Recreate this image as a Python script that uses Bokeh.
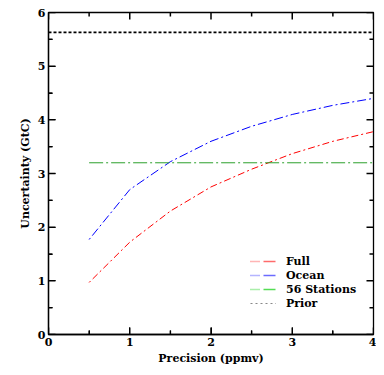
from bokeh.plotting import figure
from bokeh.models import Range1d, Legend, LegendItem, FixedTicker
from bokeh.embed import file_html
from bokeh.resources import INLINE

precision = [0.5, 1.0, 1.5, 2.0, 2.5, 3.0, 3.5, 4.0]
full = [0.97, 1.72, 2.30, 2.75, 3.08, 3.37, 3.60, 3.78]
ocean = [1.77, 2.70, 3.22, 3.60, 3.88, 4.10, 4.27, 4.40]
stations_x = [0.5, 4.0]
stations = [3.2, 3.2]
prior_x = [0.0, 4.0]
prior = [5.63, 5.63]
x_ticks = [0, 1, 2, 3, 4]
x_minor = [0.5, 1.5, 2.5, 3.5]
y_ticks = [0, 1, 2, 3, 4, 5, 6]
y_minor = [0.5, 1.5, 2.5, 3.5, 4.5, 5.5]
labels = ["Full", "Ocean", "56 Stations", "Prior"]

FONT = "DejaVu Serif"
X0, X1, Y0, Y1 = 0, 4, 0, 6
FRAME_W, FRAME_H = 325, 323  # approximate frame size in px, to size tick marks

p = figure(width=376, height=367, output_backend="svg", toolbar_location=None,
           x_range=Range1d(X0, X1), y_range=Range1d(Y0, Y1),
           min_border_left=48, min_border_right=3, min_border_top=12, min_border_bottom=26)
p.grid.visible = False
p.outline_line_color = "black"
p.outline_line_width = 1.3

r_full = p.line(precision, full, line_color="red", line_width=1, line_dash="2 3 7 3")
r_ocean = p.line(precision, ocean, line_color="blue", line_width=1, line_dash="2 3 9 3")
r_st = p.line(stations_x, stations, line_color="#2ca02c", line_width=1, line_dash="14 3 2 3")
r_pr = p.line(prior_x, prior, line_color="black", line_width=1.6, line_dash="3 2")

# inside tick marks on all four sides, as short polylines
xs_t, ys_t = [], []
for vals, px in [(x_ticks, 7), (x_minor, 4)]:
    d = px * (Y1 - Y0) / FRAME_H
    for v in vals:
        xs_t += [[v, v], [v, v]]
        ys_t += [[Y0, Y0 + d], [Y1, Y1 - d]]
for vals, px in [(y_ticks, 7), (y_minor, 4)]:
    d = px * (X1 - X0) / FRAME_W
    for v in vals:
        xs_t += [[X0, X0 + d], [X1, X1 - d]]
        ys_t += [[v, v], [v, v]]
p.multi_line(xs_t, ys_t, line_color="black", line_width=1.5)

# legend-only glyphs: single-point lines (draw nothing in the plot), dotted + solid sample, faint colours
sample = "1 1 1 1 1 1 1 1 1 4 12 4"
l_full = p.line(precision[:1], full[:1], line_color="#ff6b6b", line_width=1.5, line_dash=sample)
l_ocean = p.line(precision[:1], ocean[:1], line_color="#6b6bff", line_width=1.5, line_dash=sample)
l_st = p.line(stations_x[:1], stations[:1], line_color="#55dd55", line_width=1.5, line_dash=sample)
l_pr = p.line(prior_x[:1], prior[:1], line_color="#888888", line_width=1.2, line_dash="2 3")

for ax in [p.xaxis[0], p.yaxis[0]]:
    ax.major_tick_line_color = "black"
    ax.minor_tick_line_color = "black"
    ax.major_tick_in = 7
    ax.minor_tick_in = 4
    ax.major_tick_out = 0
    ax.minor_tick_out = 0
    ax.axis_line_width = 1.3
    ax.major_label_text_font = FONT
    ax.major_label_text_font_style = "bold"
    ax.major_label_text_font_size = "11px"
    ax.major_label_text_color = "black"
    ax.axis_label_text_font = FONT
    ax.axis_label_text_font_style = "bold"
    ax.axis_label_text_font_size = "11px"
    ax.axis_label_text_color = "black"
    ax.major_label_standoff = 3
    ax.axis_label_standoff = 3

p.xaxis.ticker = FixedTicker(ticks=x_ticks, minor_ticks=x_minor)
p.yaxis.ticker = FixedTicker(ticks=y_ticks, minor_ticks=y_minor)
p.xaxis.axis_label = "Precision (ppmv)"
p.yaxis.axis_label = "Uncertainty (GtC)"

legend = Legend(items=[
    LegendItem(label=labels[0], renderers=[l_full]),
    LegendItem(label=labels[1], renderers=[l_ocean]),
    LegendItem(label=labels[2], renderers=[l_st]),
    LegendItem(label=labels[3], renderers=[l_pr]),
], location=(198, 20))
legend.border_line_alpha = 0
legend.background_fill_alpha = 0
legend.label_text_font = FONT
legend.label_text_font_style = "bold"
legend.label_text_font_size = "11px"
legend.label_text_color = "black"
legend.label_standoff = 10
legend.spacing = 0
legend.label_height = 14
legend.glyph_height = 14
legend.glyph_width = 26
legend.padding = 4
p.add_layout(legend, "center")

open("out.html", "w").write(file_html(p, INLINE))
